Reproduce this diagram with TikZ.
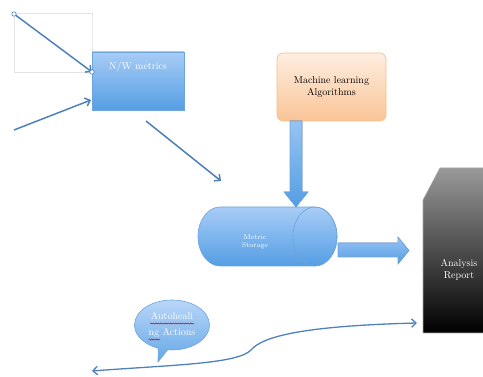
\documentclass[tikz,border=0pt]{standalone}
\usetikzlibrary{arrows.meta,shapes.callouts,decorations.pathmorphing}
\definecolor{linkblue}{RGB}{79,129,189}
\definecolor{boxtop}{RGB}{168,204,246}
\definecolor{boxbot}{RGB}{84,158,228}
\definecolor{boxedge}{RGB}{110,165,220}
\definecolor{mltop}{RGB}{253,238,224}
\definecolor{mlbot}{RGB}{250,196,150}
\definecolor{mledge}{RGB}{246,190,140}
\begin{document}
\begin{tikzpicture}[x=1pt,y=-1pt,>={Straight Barb[length=4.5pt,width=8.5pt]},
    link/.style={draw=linkblue,line width=1.5pt},
    bluebox/.style={draw=boxedge,line width=0.6pt,top color=boxtop,bottom color=boxbot},
    fat/.style={draw=boxedge,line width=0.6pt,top color=boxtop!80!boxbot,bottom color=boxbot},
    white text/.style={text=white,align=center},
    squiggle/.style={red!85!black,line width=0.5pt,decorate,
        decoration={snake,amplitude=0.6pt,segment length=2.5pt}}]
    \clip (0,0) rectangle (483,377);
    % faint frame and the inputs
    \draw[gray!20,line width=0.6pt] (14,13) rectangle (92,72);
    \node[bluebox,minimum width=92pt,minimum height=58pt,inner sep=0pt] (nw) at (138,81) {};
    \node[white text] (nwlabel) at (138,67) {N/W metrics};
    \coordinate (in1) at (14,14);
    \coordinate (in1end) at (92,72);
    \coordinate (in2) at (14,130);
    \coordinate (in2end) at (91,100);
    \coordinate (out1) at (146,121);
    \coordinate (out1end) at (221,181);
    \draw[link,->] (in1) -- (in1end);
    \draw[linkblue,fill=white,line width=0.6pt] (in1) circle (2.2pt) (in1end) circle (2.2pt);
    \draw[link,->] (in2) -- (in2end);
    \draw[link,->] (out1) -- (out1end);
    % algorithms
    \node[draw=mledge,line width=0.6pt,rounded corners=6pt,top color=mltop,bottom color=mlbot,
        minimum width=109pt,minimum height=68pt,align=center] (ml) at (331.5,87)
        {Machine learning\\Algorithms};
    % storage
    \draw[bluebox] (220,207) -- (315,207)
        arc[start angle=-90,end angle=90,x radius=22,y radius=29.5] -- (220,266)
        arc[start angle=90,end angle=270,x radius=22,y radius=29.5] -- cycle;
    \draw[boxedge,line width=0.6pt] (315,236.5) ellipse[x radius=22,y radius=29.5];
    \node[white text,font=\scriptsize] (store) at (255,242) {Metric\\Storage};
    \fill[fat] (290,121) -- (302,121) -- (302,192) -- (308,192) -- (296,207)
        -- (284,192) -- (290,192) -- cycle;
    \fill[fat] (338,243) -- (398,243) -- (398,237) -- (409,250.5) -- (398,264)
        -- (398,257) -- (338,257) -- cycle;
    % report
    \draw[gray!70,line width=0.6pt,top color=black!40,bottom color=black]
        (440,168) -- (490,168) -- (490,333) -- (423,333) -- (423,200) -- cycle;
    \node[white text] (report) at (459,270) {Analysis\\Report};
    % autohealing
    \node[ellipse callout,callout absolute pointer={(158,362)},draw=boxedge,line width=0.6pt,
        top color=boxtop!80,bottom color=boxbot!90,minimum width=75pt,minimum height=50pt,
        inner sep=0pt,white text,font={\fontsize{10}{16}\selectfont}] (heal) at (172,325)
        {Autoheali\\ng Actions};
    \draw[squiggle] (150,323.5) -- (194,323.5);
    \draw[squiggle] (148.5,339.5) -- (160,339.5);
    \coordinate (back) at (92,371);
    \coordinate (fwd) at (417,323);
    \draw[link,line width=1.3pt,<->] (back) .. controls (170,365) and (238,364) .. (251,350)
        .. controls (262,337) and (300,326) .. (fwd);
\end{tikzpicture}
\end{document}
